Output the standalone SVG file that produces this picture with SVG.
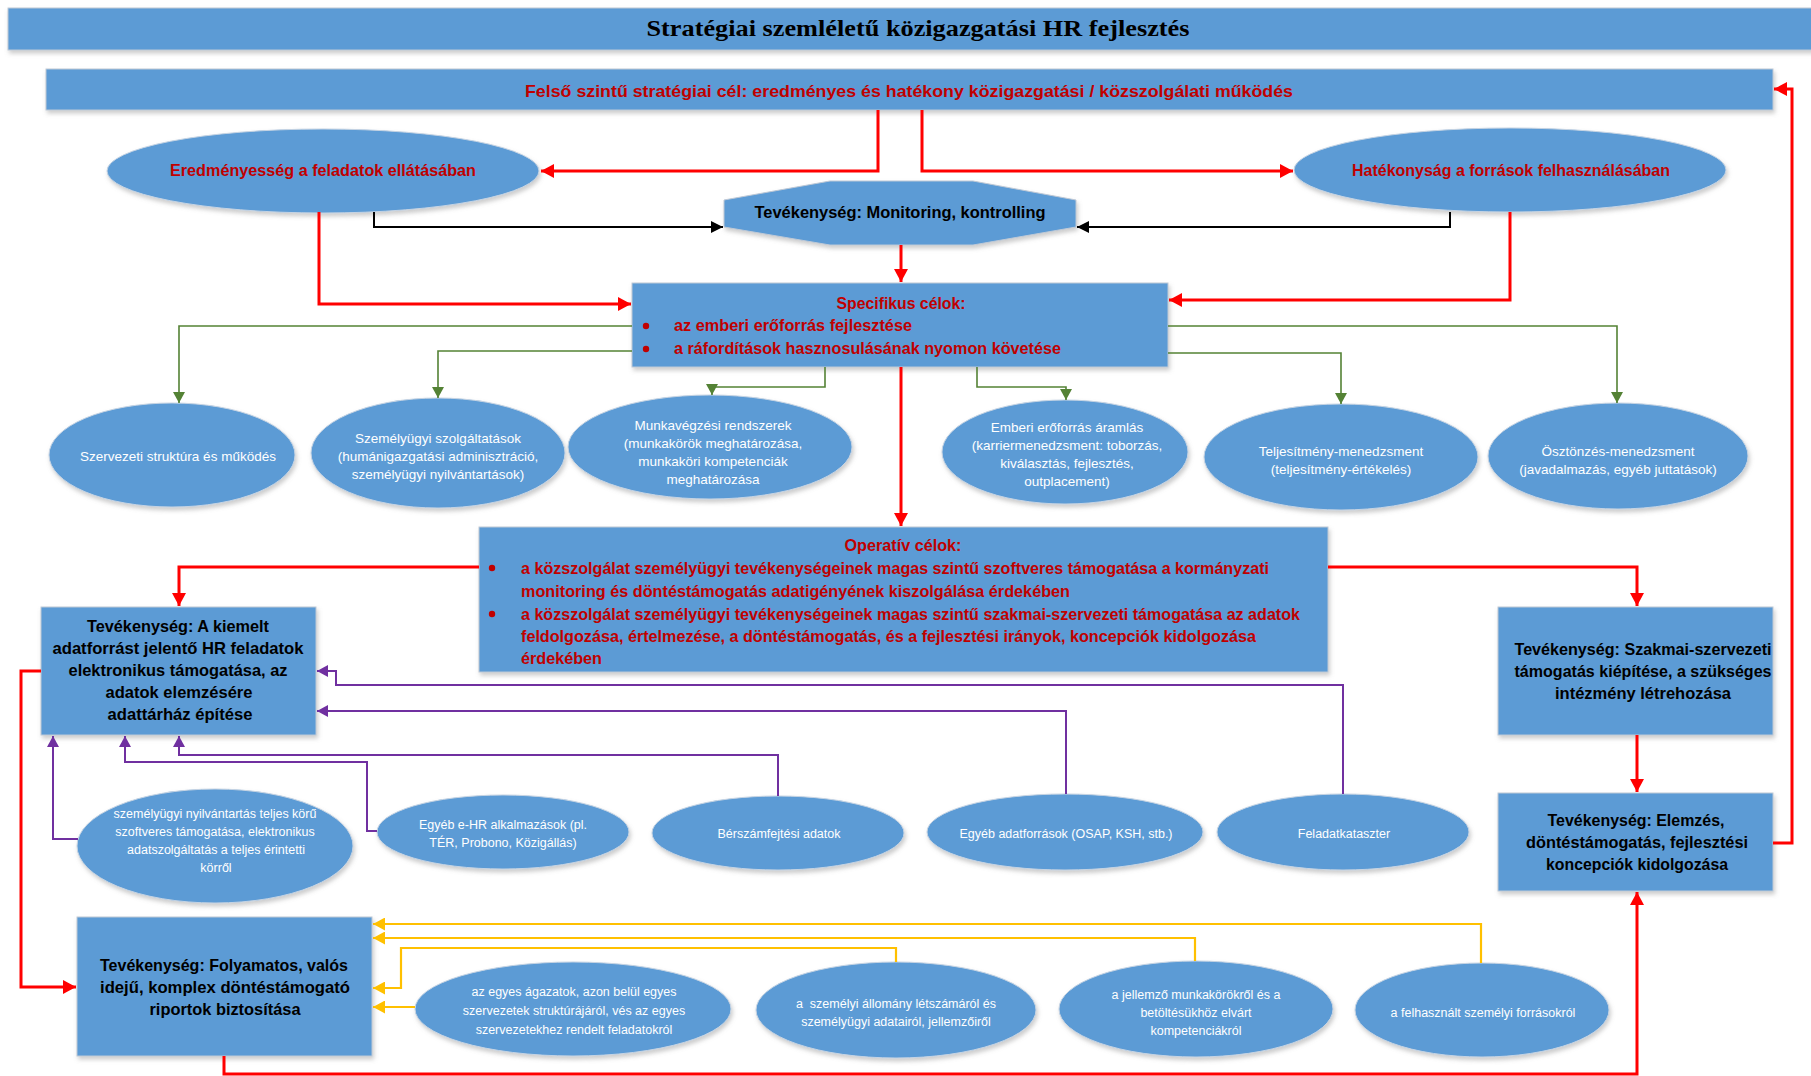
<svg xmlns="http://www.w3.org/2000/svg" width="1811" height="1076" viewBox="0 0 1811 1076">
<defs>
<filter id="sh" x="-10%" y="-10%" width="120%" height="130%">
<feDropShadow dx="1.5" dy="3" stdDeviation="2" flood-color="#7f7f7f" flood-opacity="0.4"/>
</filter>
<marker id="aRed" markerUnits="userSpaceOnUse" markerWidth="14" markerHeight="14" refX="13" refY="7" orient="auto"><path d="M0,0 L13,7 L0,14 z" fill="#ff0000"/></marker>
<marker id="aBlack" markerUnits="userSpaceOnUse" markerWidth="12" markerHeight="12" refX="12" refY="6" orient="auto"><path d="M0,0 L12,6 L0,12 z" fill="#000"/></marker>
<marker id="aGreen" markerUnits="userSpaceOnUse" markerWidth="12" markerHeight="12" refX="11" refY="6" orient="auto"><path d="M0,0 L11,6 L0,12 z" fill="#548235"/></marker>
<marker id="aPurple" markerUnits="userSpaceOnUse" markerWidth="12" markerHeight="12" refX="11" refY="6" orient="auto"><path d="M0,0 L11,6 L0,12 z" fill="#7030a0"/></marker>
<marker id="aYellow" markerUnits="userSpaceOnUse" markerWidth="13" markerHeight="13" refX="12" refY="6.5" orient="auto"><path d="M0,0 L12,6.5 L0,13 z" fill="#ffc000"/></marker>
</defs>
<style>
.box{fill:#5b9bd5;stroke:#bfc9d6;stroke-width:1;filter:url(#sh)}
.ell{fill:#5b9bd5;stroke:#c5d3e3;stroke-width:1;filter:url(#sh)}
.title{font-family:"Liberation Serif","Times New Roman",serif;font-weight:bold;font-size:23px;fill:#000;text-anchor:middle}
.rb{font-family:"Liberation Sans",Arial,sans-serif;font-weight:bold;font-size:17px;fill:#c00000}
.rbc{font-family:"Liberation Sans",Arial,sans-serif;font-weight:bold;font-size:17px;fill:#c00000;text-anchor:middle}
.kb{font-family:"Liberation Sans",Arial,sans-serif;font-weight:bold;font-size:16.5px;fill:#000;text-anchor:middle}
.wt{font-family:"Liberation Sans",Arial,sans-serif;font-size:13.5px;fill:#fff;text-anchor:middle}
.ws{font-family:"Liberation Sans",Arial,sans-serif;font-size:12.5px;fill:#fff;text-anchor:middle}
.red{fill:none;stroke:#ff0000;stroke-width:3;marker-end:url(#aRed)}
.blk{fill:none;stroke:#000;stroke-width:2;marker-end:url(#aBlack)}
.grn{fill:none;stroke:#548235;stroke-width:1.6;marker-end:url(#aGreen)}
.pur{fill:none;stroke:#7030a0;stroke-width:2;marker-end:url(#aPurple)}
.yel{fill:none;stroke:#ffc000;stroke-width:2.2;marker-end:url(#aYellow)}
</style>
<rect width="1811" height="1076" fill="#fff"/>

<g id="title">
<rect class="box" x="8" y="8" width="1810" height="42"/>
<text class="title" x="918" y="36" textLength="543" lengthAdjust="spacingAndGlyphs">Stratégiai szemléletű közigazgatási HR fejlesztés</text>
</g>

<g id="goal">
<rect class="box" x="46" y="69" width="1727" height="41"/>
<text class="rbc" x="909" y="97" textLength="768" lengthAdjust="spacingAndGlyphs">Felső szintű stratégiai cél: eredményes és hatékony közigazgatási / közszolgálati működés</text>
</g>

<g id="eredmenyesseg">
<ellipse class="ell" cx="323" cy="171" rx="216" ry="42"/>
<text class="rbc" x="323" y="176" font-size="16" textLength="306" lengthAdjust="spacingAndGlyphs">Eredményesség a feladatok ellátásában</text>
</g>

<g id="hatekonysag">
<ellipse class="ell" cx="1510" cy="170" rx="216" ry="42"/>
<text class="rbc" x="1511" y="176" font-size="16" textLength="318" lengthAdjust="spacingAndGlyphs">Hatékonyság a források felhasználásában</text>
</g>

<g id="monitoring">
<polygon class="box" points="830,181 973,181 1076,200 1076,227 973,245 830,245 724,227 724,200"/>
<text class="kb" x="900" y="218" textLength="291" lengthAdjust="spacingAndGlyphs">Tevékenység: Monitoring, kontrolling</text>
</g>

<g id="specifikus">
<rect class="box" x="632" y="283" width="536" height="84"/>
<text class="rbc" x="901" y="309" textLength="129" lengthAdjust="spacingAndGlyphs">Specifikus célok:</text>
<circle cx="646" cy="326" r="3.2" fill="#c00000"/>
<circle cx="646" cy="349" r="3.2" fill="#c00000"/>
<text class="rb" x="674" y="331" textLength="238" lengthAdjust="spacingAndGlyphs">az emberi erőforrás fejlesztése</text>
<text class="rb" x="674" y="354" textLength="387" lengthAdjust="spacingAndGlyphs">a ráfordítások hasznosulásának nyomon követése</text>
</g>

<g id="g1">
<ellipse class="ell" cx="172" cy="455" rx="123" ry="52"/>
<text class="wt" x="178" y="461">Szervezeti struktúra és működés</text>
</g>
<g id="g2">
<ellipse class="ell" cx="438" cy="453" rx="127" ry="55"/>
<text class="wt" x="438" y="443">Személyügyi szolgáltatások</text>
<text class="wt" x="438" y="461">(humánigazgatási adminisztráció,</text>
<text class="wt" x="438" y="479">személyügyi nyilvántartások)</text>
</g>
<g id="g3">
<ellipse class="ell" cx="710" cy="447" rx="142" ry="52"/>
<text class="wt" x="713" y="430">Munkavégzési rendszerek</text>
<text class="wt" x="713" y="448">(munkakörök meghatározása,</text>
<text class="wt" x="713" y="466">munkaköri kompetenciák</text>
<text class="wt" x="713" y="484">meghatározása</text>
</g>
<g id="g4">
<ellipse class="ell" cx="1065" cy="452" rx="123" ry="52"/>
<text class="wt" x="1067" y="432">Emberi erőforrás áramlás</text>
<text class="wt" x="1067" y="450">(karriermenedzsment: toborzás,</text>
<text class="wt" x="1067" y="468">kiválasztás, fejlesztés,</text>
<text class="wt" x="1067" y="486">outplacement)</text>
</g>
<g id="g5">
<ellipse class="ell" cx="1341" cy="457" rx="137" ry="53"/>
<text class="wt" x="1341" y="456">Teljesítmény-menedzsment</text>
<text class="wt" x="1341" y="474">(teljesítmény-értékelés)</text>
</g>
<g id="g6">
<ellipse class="ell" cx="1618" cy="456" rx="130" ry="53"/>
<text class="wt" x="1618" y="456">Ösztönzés-menedzsment</text>
<text class="wt" x="1618" y="474">(javadalmazás, egyéb juttatások)</text>
</g>

<g id="operativ">
<rect class="box" x="479" y="527" width="849" height="145"/>
<text class="rbc" x="903" y="551" textLength="117" lengthAdjust="spacingAndGlyphs">Operatív célok:</text>
<circle cx="492" cy="568" r="3.2" fill="#c00000"/>
<circle cx="492" cy="614" r="3.2" fill="#c00000"/>
<text class="rb" x="521" y="574" textLength="748" lengthAdjust="spacingAndGlyphs">a közszolgálat személyügyi tevékenységeinek magas szintű szoftveres támogatása a kormányzati</text>
<text class="rb" x="521" y="597" textLength="549" lengthAdjust="spacingAndGlyphs">monitoring és döntéstámogatás adatigényének kiszolgálása érdekében</text>
<text class="rb" x="521" y="620" textLength="779" lengthAdjust="spacingAndGlyphs">a közszolgálat személyügyi tevékenységeinek magas szintű szakmai-szervezeti támogatása az adatok</text>
<text class="rb" x="521" y="642" textLength="735" lengthAdjust="spacingAndGlyphs">feldolgozása, értelmezése, a döntéstámogatás, és a fejlesztési irányok, koncepciók kidolgozása</text>
<text class="rb" x="521" y="664" textLength="81" lengthAdjust="spacingAndGlyphs">érdekében</text>
</g>

<g id="adattarhaz">
<rect class="box" x="41" y="607" width="275" height="128"/>
<text class="kb" x="178" y="632" textLength="182" lengthAdjust="spacingAndGlyphs">Tevékenység: A kiemelt</text>
<text class="kb" x="178" y="654" textLength="251" lengthAdjust="spacingAndGlyphs">adatforrást jelentő HR feladatok</text>
<text class="kb" x="178" y="676" textLength="219" lengthAdjust="spacingAndGlyphs">elektronikus támogatása, az</text>
<text class="kb" x="179" y="698" textLength="147" lengthAdjust="spacingAndGlyphs">adatok elemzésére</text>
<text class="kb" x="180" y="720" textLength="145" lengthAdjust="spacingAndGlyphs">adattárház építése</text>
</g>

<g id="szakmai">
<rect class="box" x="1498" y="607" width="275" height="128"/>
<text class="kb" x="1643" y="655" textLength="257" lengthAdjust="spacingAndGlyphs">Tevékenység: Szakmai-szervezeti</text>
<text class="kb" x="1643" y="677" textLength="257" lengthAdjust="spacingAndGlyphs">támogatás kiépítése, a szükséges</text>
<text class="kb" x="1643" y="699" textLength="176" lengthAdjust="spacingAndGlyphs">intézmény létrehozása</text>
</g>

<g id="elemzes">
<rect class="box" x="1498" y="793" width="275" height="98"/>
<text class="kb" x="1636" y="826" textLength="177" lengthAdjust="spacingAndGlyphs">Tevékenység: Elemzés,</text>
<text class="kb" x="1637" y="848" textLength="222" lengthAdjust="spacingAndGlyphs">döntéstámogatás, fejlesztési</text>
<text class="kb" x="1637" y="870" textLength="182" lengthAdjust="spacingAndGlyphs">koncepciók kidolgozása</text>
</g>

<g id="p1">
<ellipse class="ell" cx="215" cy="846" rx="138" ry="57"/>
<text class="ws" x="215" y="818">személyügyi nyilvántartás teljes körű</text>
<text class="ws" x="215" y="836">szoftveres támogatása, elektronikus</text>
<text class="ws" x="216" y="854">adatszolgáltatás a teljes érintetti</text>
<text class="ws" x="216" y="872">körről</text>
</g>
<g id="p2">
<ellipse class="ell" cx="503" cy="832" rx="126" ry="37"/>
<text class="ws" x="503" y="829">Egyéb e-HR alkalmazások (pl.</text>
<text class="ws" x="503" y="847">TÉR, Probono, Közigállás)</text>
</g>
<g id="p3">
<ellipse class="ell" cx="778" cy="833" rx="126" ry="37"/>
<text class="ws" x="779" y="838">Bérszámfejtési adatok</text>
</g>
<g id="p4">
<ellipse class="ell" cx="1065" cy="832" rx="138" ry="38"/>
<text class="ws" x="1066" y="838">Egyéb adatforrások (OSAP, KSH, stb.)</text>
</g>
<g id="p5">
<ellipse class="ell" cx="1343" cy="832" rx="126" ry="38"/>
<text class="ws" x="1344" y="838">Feladatkataszter</text>
</g>

<g id="riportok">
<rect class="box" x="77" y="917" width="295" height="139"/>
<text class="kb" x="224" y="971" textLength="248" lengthAdjust="spacingAndGlyphs">Tevékenység: Folyamatos, valós</text>
<text class="kb" x="225" y="993" textLength="250" lengthAdjust="spacingAndGlyphs">idejű, komplex döntéstámogató</text>
<text class="kb" x="225" y="1015" textLength="151" lengthAdjust="spacingAndGlyphs">riportok biztosítása</text>
</g>

<g id="y1">
<ellipse class="ell" cx="573" cy="1009" rx="158" ry="47"/>
<text class="ws" x="574" y="996">az egyes ágazatok, azon belül egyes</text>
<text class="ws" x="574" y="1015">szervezetek struktúrájáról, vés az egyes</text>
<text class="ws" x="574" y="1034">szervezetekhez rendelt feladatokról</text>
</g>
<g id="y2">
<ellipse class="ell" cx="896" cy="1010" rx="140" ry="48"/>
<text class="ws" x="896" y="1008" style="white-space:pre">a  személyi állomány létszámáról és</text>
<text class="ws" x="896" y="1026">személyügyi adatairól, jellemzőiről</text>
</g>
<g id="y3">
<ellipse class="ell" cx="1196" cy="1009" rx="137" ry="48"/>
<text class="ws" x="1196" y="999">a jellemző munkakörökről és a</text>
<text class="ws" x="1196" y="1017">betöltésükhöz elvárt</text>
<text class="ws" x="1196" y="1035">kompetenciákról</text>
</g>
<g id="y4">
<ellipse class="ell" cx="1482" cy="1010" rx="127" ry="47"/>
<text class="ws" x="1483" y="1017">a felhasznált személyi forrásokról</text>
</g>

<g id="connectors">
<path class="red" d="M878,110 V171 H541"/>
<path class="red" d="M922,110 V171 H1293"/>
<path class="red" d="M319,212 V304 H631"/>
<path class="red" d="M1510,212 V300 H1169"/>
<path class="red" d="M901,245 V282"/>
<path class="red" d="M901,367 V526"/>
<path class="red" d="M479,567 H179 V606"/>
<path class="red" d="M1328,567 H1637 V606"/>
<path class="red" d="M1637,735 V792"/>
<path class="red" d="M1773,843 H1792 V89 H1774"/>
<path class="red" d="M41,671 H21 V987 H76"/>
<path class="red" d="M224,1056 V1074 H1637 V892"/>
<path class="blk" d="M374,212 V227 H723"/>
<path class="blk" d="M1450,212 V227 H1077"/>
<path class="grn" d="M632,326 H179 V403"/>
<path class="grn" d="M632,351 H438 V398"/>
<path class="grn" d="M825,367 V387 H712 V395"/>
<path class="grn" d="M977,367 V387 H1066 V400"/>
<path class="grn" d="M1168,353 H1341 V404"/>
<path class="grn" d="M1168,326 H1617 V403"/>
<path class="pur" d="M1343,794 V685 H336 V671 H317"/>
<path class="pur" d="M1066,794 V711 H317"/>
<path class="pur" d="M778,796 V755 H179 V736"/>
<path class="pur" d="M377,831 H367 V762 H125 V736"/>
<path class="pur" d="M78,839 H53 V736"/>
<path class="yel" d="M1481,963 V924 H373"/>
<path class="yel" d="M1195,961 V938 H373"/>
<path class="yel" d="M896,962 V948 H401 V988 H373"/>
<path class="yel" d="M415,1007 H373"/>
</g>
</svg>
